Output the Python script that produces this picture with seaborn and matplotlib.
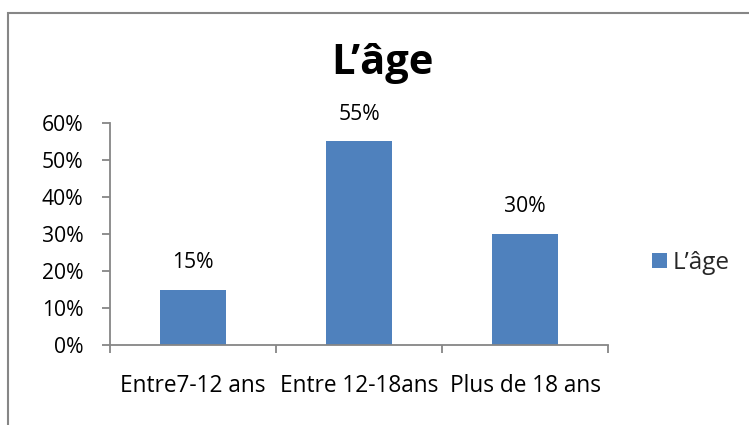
import numpy as np
import pandas as pd
import matplotlib
matplotlib.use("Agg")
import matplotlib.pyplot as plt
import seaborn as sns
from matplotlib.patches import Rectangle
from matplotlib.ticker import MultipleLocator, PercentFormatter

# données
categories = ["Entre7-12 ans", "Entre 12-18ans", "Plus de 18 ans"]
valeurs = [0.15, 0.55, 0.30]
serie = "L\u2019âge"

df = pd.DataFrame({"categorie": categories, "valeur": valeurs})

sns.set_theme(style="white")
plt.rcParams['font.family'] = ['Open Sans', 'DejaVu Sans']

bleu = "#4F81BD"
gris = "#868686"

fig = plt.figure(figsize=(7.49, 4.25), dpi=100, facecolor='w')
W, H = 749, 425
ax = fig.add_axes([110 / W, 1 - 345 / H, (608 - 110) / W, (345 - 123) / H])

sns.barplot(data=df, x="categorie", y="valeur", color=bleu, width=0.4,
            saturation=1, ax=ax, label=serie, linewidth=0)
if ax.get_legend() is not None:
    ax.get_legend().remove()

ax.set_ylim(0, 0.6)
ax.set_xlim(-0.5, 2.5)
ax.yaxis.set_major_locator(MultipleLocator(0.1))
ax.yaxis.set_major_formatter(PercentFormatter(1.0, decimals=0))
ax.set_xlabel("")
ax.set_ylabel("")

for s in ["top", "right"]:
    ax.spines[s].set_visible(False)
for s in ["left", "bottom"]:
    ax.spines[s].set_color(gris)
    ax.spines[s].set_linewidth(1.3)

ax.set_xticks([0, 1, 2])
ax.set_xticklabels(categories)
ax.set_xticks([-0.5, 0.5, 1.5, 2.5], minor=True)
ax.tick_params(axis='x', which='major', length=0, labelsize=16.3, pad=21,
               labelcolor='black')
ax.tick_params(axis='x', which='minor', length=6, width=1.3, color=gris,
               direction='out', bottom=True)
ax.tick_params(axis='y', length=6, width=1.3, color=gris, direction='out',
               labelsize=15.2, pad=13, labelcolor='black', left=True)

for i, v in enumerate(valeurs):
    ax.annotate(f"{v:.0%}", (i, v), xytext=(0, 27), textcoords='offset pixels',
                ha='center', va='center', fontsize=15.2, color='black')

fig.text(382 / W, 1 - 64 / H, serie, ha='center', va='center',
         fontsize=30, fontweight='bold', color='black')

# légende
handles, labels = ax.get_legend_handles_labels()
fig.legend(handles, labels, loc='center left', bbox_to_anchor=(652 / W, 1 - 263 / H),
           frameon=False, fontsize=17.5, handlelength=0.6, handleheight=0.6,
           handletextpad=0.25, borderpad=0, borderaxespad=0)

# cadre du graphique
fig.patches.append(Rectangle((7.5 / W, -0.1), 1.2, 1 - 12.5 / H + 0.1,
                             transform=fig.transFigure, fill=False,
                             edgecolor=gris, linewidth=1.5))

fig.savefig("out.png", dpi=100, facecolor='w')
